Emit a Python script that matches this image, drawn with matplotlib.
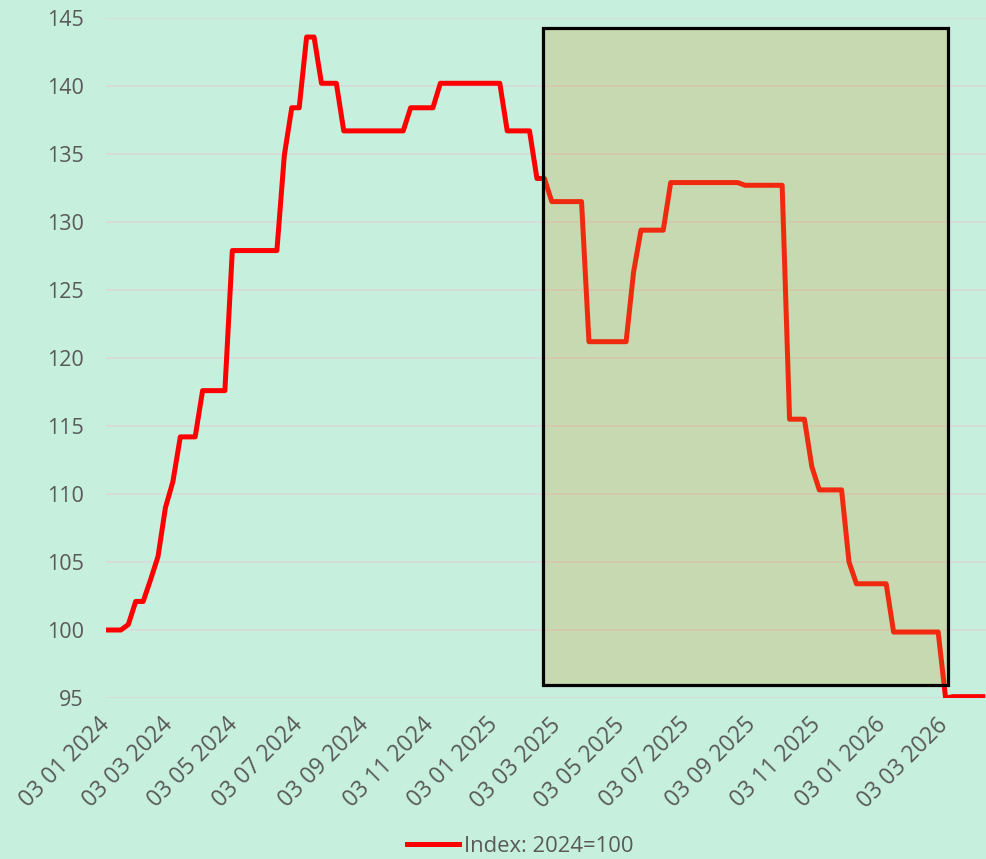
import numpy as np
import pandas as pd
import matplotlib
matplotlib.use('Agg')
from matplotlib import pyplot as plt
import matplotlib.dates as mdates
from matplotlib.patches import Rectangle

# weekly index values, 2024=100
start_date = '2024-01-03'
index_vals = [100.0, 100.0, 100.0, 100.4, 102.1, 102.1, 103.7, 105.4, 109.0, 110.9,
              114.2, 114.2, 114.2, 117.6, 117.6, 117.6, 117.6, 127.9, 127.9, 127.9,
              127.9, 127.9, 127.9, 127.9, 134.9, 138.4, 138.4, 143.6, 143.6, 140.2,
              140.2, 140.2, 136.7, 136.7, 136.7, 136.7, 136.7, 136.7, 136.7, 136.7,
              136.7, 138.4, 138.4, 138.4, 138.4, 140.2, 140.2, 140.2, 140.2, 140.2,
              140.2, 140.2, 140.2, 140.2, 136.7, 136.7, 136.7, 136.7, 133.2, 133.2,
              131.5, 131.5, 131.5, 131.5, 131.5, 121.2, 121.2, 121.2, 121.2, 121.2,
              121.2, 126.3, 129.4, 129.4, 129.4, 129.4, 132.9, 132.9, 132.9, 132.9,
              132.9, 132.9, 132.9, 132.9, 132.9, 132.9, 132.7, 132.7, 132.7, 132.7,
              132.7, 132.7, 115.5, 115.5, 115.5, 112.0, 110.3, 110.3, 110.3, 110.3,
              105.0, 103.4, 103.4, 103.4, 103.4, 103.4, 99.85, 99.85, 99.85, 99.85,
              99.85, 99.85, 99.85, 95.0, 95.1, 95.1, 95.1, 95.1, 95.1]
dates = pd.date_range(start_date, periods=len(index_vals), freq='7D')

tick_dates = pd.to_datetime(['2024-01-03', '2024-03-03', '2024-05-03', '2024-07-03',
                             '2024-09-03', '2024-11-03', '2025-01-03', '2025-03-03',
                             '2025-05-03', '2025-07-03', '2025-09-03', '2025-11-03',
                             '2026-01-03', '2026-03-03'])
y_ticks = [95, 100, 105, 110, 115, 120, 125, 130, 135, 140, 145]

# highlighted period
box_start, box_end = '2025-02-18', '2026-03-06'
box_low, box_high = 95.96, 144.26

plt.rcParams['font.family'] = ['Open Sans', 'DejaVu Sans']
bg = '#C6EFDE'
txt = '#595959'

fig = plt.figure(figsize=[9.87, 8.59], dpi=100, facecolor=bg)
ax = fig.add_axes([106/987, 1-698/859, (987-106)/987, (698-18)/859])
ax.set_facecolor(bg)

ax.plot(dates, index_vals, c='#FF0000', lw=3.6, solid_joinstyle='round', zorder=2,
        label='Index: 2024=100')

x0 = mdates.date2num(pd.Timestamp(box_start))
x1 = mdates.date2num(pd.Timestamp(box_end))
ax.add_patch(Rectangle((x0, box_low), x1-x0, box_high-box_low,
                       facecolor=(0.79, 0.62, 0.21, 0.27), edgecolor='black',
                       lw=2.3, zorder=3))

ax.set_ylim(95, 145)
ax.set_yticks(y_ticks)
ax.set_xlim(mdates.date2num(pd.Timestamp(start_date)),
            mdates.date2num(pd.Timestamp(start_date)) + 830)
ax.set_xticks(tick_dates)
ax.set_xticklabels([d.strftime('%d %m %Y') for d in tick_dates], rotation=45,
                   ha='right', va='center', rotation_mode='anchor', fontsize=16.5)

ax.grid(axis='y', color='#D9D9D9', lw=1.2, zorder=0)
ax.set_axisbelow(True)
for s in ax.spines.values():
    s.set_visible(False)
ax.tick_params(axis='both', length=0, labelcolor=txt)
ax.tick_params(axis='y', pad=16, labelsize=15.5)
ax.tick_params(axis='x', pad=17)

fig.legend(loc='center', bbox_to_anchor=(520/987, 1-846/859), frameon=False,
           fontsize=15.8, labelcolor=txt, handlelength=2.4, handletextpad=0.2)

fig.savefig('out.png', facecolor=bg)
